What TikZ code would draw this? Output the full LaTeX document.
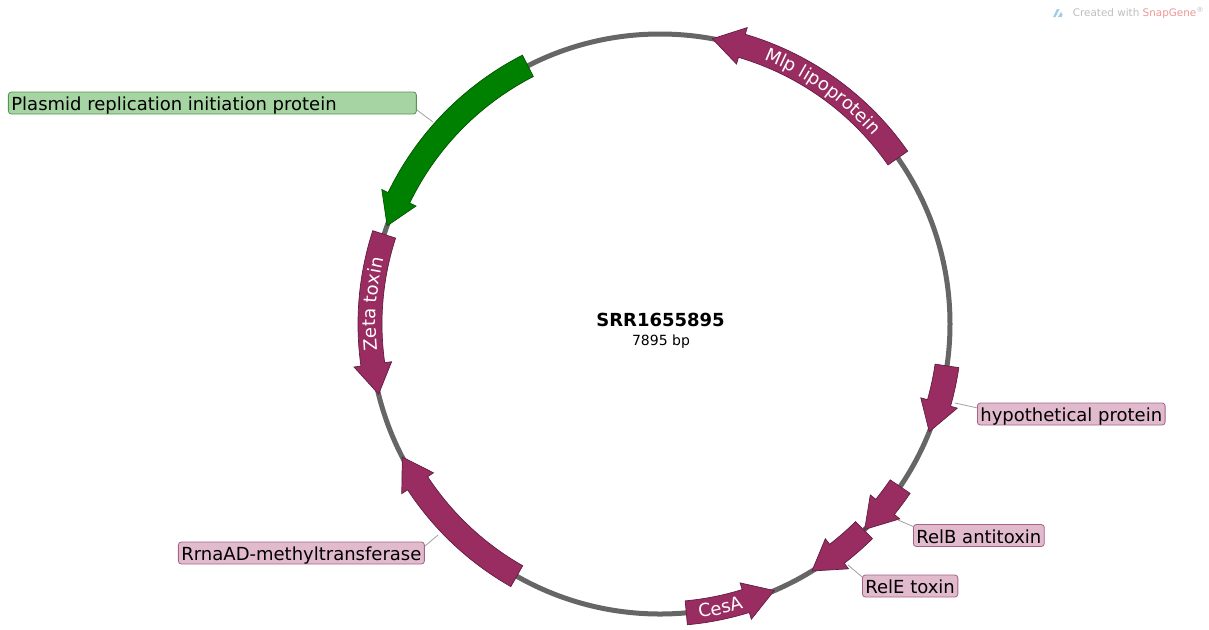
\documentclass[tikz,border=0pt]{standalone}
\usepackage{fontspec}
\setmainfont{DejaVu Sans}
\usetikzlibrary{decorations.text,calc}
\definecolor{feat}{RGB}{153,45,98}
\definecolor{featg}{RGB}{0,128,0}
\definecolor{labp}{RGB}{226,186,206}
\definecolor{labpb}{RGB}{165,100,135}
\definecolor{labg}{RGB}{166,212,162}
\definecolor{labgb}{RGB}{80,150,80}
\definecolor{bbone}{RGB}{102,102,102}
\definecolor{connc}{RGB}{160,160,160}
\definecolor{cwgray}{RGB}{190,190,190}
\definecolor{sgred}{RGB}{240,150,150}
\definecolor{sgblue}{RGB}{160,205,230}
\newcommand\rIn{278}
\newcommand\rOut{302}
\newcommand\rHin{271}
\newcommand\rHout{309}
\newcommand\rMid{290}
\newcommand\labfont{\fontsize{9}{10}\selectfont}
\newcommand\featarrow[3]{%
  \pgfmathsetmacro\hb{#2-6*sign(#2-#1)}%
  \draw[featline, draw=#3!65!black, fill=#3] (#1:\rIn) arc[start angle=#1, end angle=\hb, radius=\rIn]
    -- (\hb:\rHin) -- (#2:\rMid) -- (\hb:\rHout) -- (\hb:\rOut)
    arc[start angle=\hb, end angle=#1, radius=\rOut] -- cycle;}
\tikzset{
  featline/.style={line width=0.35pt, line join=miter},
  backbone/.style={draw=bbone, line width=2.5pt},
  plabel/.style={draw=labpb, fill=labp, rounded corners=1.5pt, inner xsep=1.5pt, inner ysep=0.5pt,
    text height=8.85pt, text depth=1.15pt, font=\labfont, anchor=west, line width=0.4pt},
  glabel/.style={plabel, draw=labgb, fill=labg},
  conn/.style={draw=connc, line width=0.4pt},
}
\begin{document}
\begin{tikzpicture}[x=0.5pt,y=0.5pt]
\useasboundingbox (-660,-305) rectangle (549,324);
% backbone
\draw[backbone] (0,0) circle[radius=290];
% features
\featarrow{34.9}{79.6}{feat}
\featarrow{117.1}{160.2}{featg}
\featarrow{162}{194}{feat}
\featarrow{240.4}{207.3}{feat}
\featarrow{275.2}{293.2}{feat}
\featarrow{314.7}{301.6}{feat}
\featarrow{325.9}{314.9}{feat}
\featarrow{351.7}{338.2}{feat}
% texts inside features
\path[decorate, decoration={text along path, text align=center,
  text={|\labfont\color{white}|Mlp lipoprotein}}]
  (85:284) arc[start angle=85, end angle=25, radius=284];
\path[decorate, decoration={text along path, text align=center,
  text={|\labfont\color{white}|Zeta toxin}}]
  (206:284) arc[start angle=206, end angle=146, radius=284];
\path[decorate, decoration={text along path, text align=center,
  text={|\labfont\color{white}|CesA}}]
  (262:296.5) arc[start angle=262, end angle=302, radius=296.5];
% centre
\node[font=\bfseries\fontsize{9}{10}\selectfont, anchor=base] (title) at (0.5,-2.7) {SRR1655895};
\node[font=\fontsize{7}{8}\selectfont, anchor=base] (len) at (1,-21) {7895 bp};
% connection points
\coordinate (cg) at (-227,202);
\coordinate (ch) at (295,-79);
\coordinate (crb) at (238,-196);
\coordinate (cre) at (188,-241);
\coordinate (crr) at (-222,-211);
% labels
\node[glabel] (plab) at (-652,221) {\makebox[201pt][l]{Plasmid replication initiation protein}};
\node[plabel] (hlab) at (317,-90) {hypothetical protein};
\node[plabel] (rblab) at (253,-211.5) {RelB antitoxin};
\node[plabel] (relab) at (202,-262) {RelE toxin};
\node[plabel] (rrlab) at (-482,-229) {RrnaAD-methyltransferase};
\draw[conn] ($(plab.north east)!0.8!(plab.south east)$) -- (cg);
\draw[conn] (ch) -- ($(hlab.north west)!0.23!(hlab.south west)$);
\draw[conn] (crb) -- ($(rblab.north west)!0.1!(rblab.south west)$);
\draw[conn] (cre) -- ($(relab.north west)!0.1!(relab.south west)$);
\draw[conn] ($(rrlab.north east)!0.2!(rrlab.south east)$) -- (crr);
% watermark
\fill[sgblue] (393,307) -- (397,315) -- (399.5,315) -- (395.5,307) -- cycle;
\fill[sgblue] (398,307) -- (401,312) -- (402.5,309) -- (401.5,307) -- cycle;
\node[anchor=east, inner sep=0pt, font=\fontsize{5.2}{6}\selectfont] (wm) at (545,311)
  {\textcolor{cwgray}{Created with }\textcolor{sgred}{SnapGene}\textcolor{cwgray}{\textsuperscript{®}}};
\end{tikzpicture}
\end{document}
